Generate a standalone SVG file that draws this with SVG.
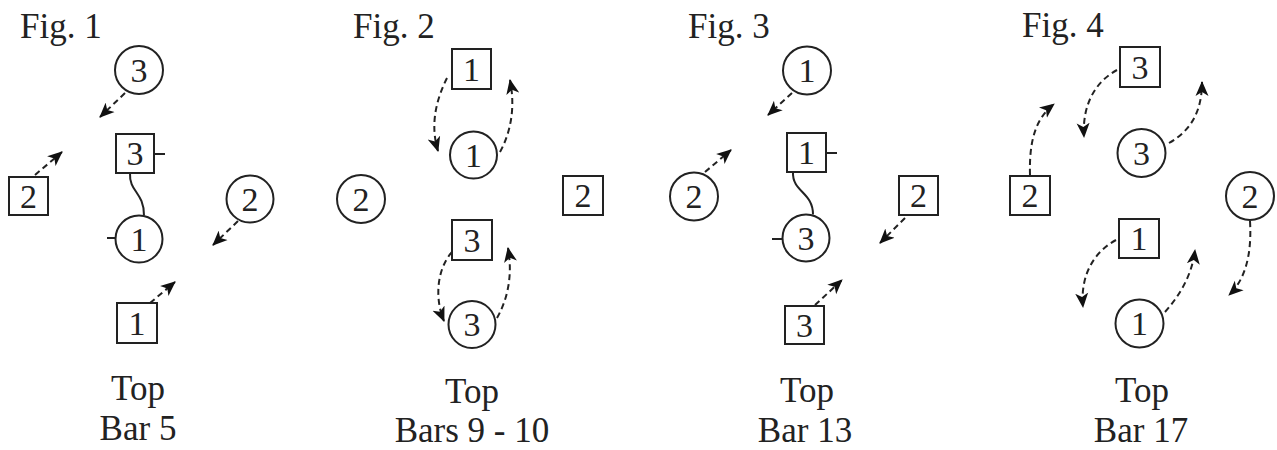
<svg xmlns="http://www.w3.org/2000/svg" width="1277" height="450" viewBox="0 0 1277 450">
<style>
.n circle,.n rect{fill:none;stroke:#222;stroke-width:2}
.n line{stroke:#222;stroke-width:2}
.n text{font-family:"Liberation Serif",serif;font-size:34px;fill:#222;text-anchor:middle}
.lbl{font-family:"Liberation Serif",serif;font-size:35px;fill:#222}
.cap{text-anchor:middle}
.d{fill:none;stroke:#222;stroke-width:2;stroke-dasharray:6 4;marker-end:url(#ah)}
.w{fill:none;stroke:#222;stroke-width:2}
</style>
<defs>
<marker id="ah" markerWidth="16" markerHeight="14" refX="14" refY="7" orient="auto" markerUnits="userSpaceOnUse">
<path d="M0,0.5 L15,7 L0,13.5 L4,7 z" fill="#111"/>
</marker>
</defs>
<rect width="1277" height="450" fill="#fff"/>

<!-- Figure labels -->
<g id="labels">
<text class="lbl" x="20" y="38">Fig. 1</text>
<text class="lbl" x="353" y="38">Fig. 2</text>
<text class="lbl" x="688" y="38">Fig. 3</text>
<text class="lbl" x="1022" y="37">Fig. 4</text>
<text class="lbl cap" x="138" y="400">Top</text>
<text class="lbl cap" x="138" y="440">Bar 5</text>
<text class="lbl cap" x="472" y="403">Top</text>
<text class="lbl cap" x="472" y="442">Bars 9 - 10</text>
<text class="lbl cap" x="807" y="402">Top</text>
<text class="lbl cap" x="805" y="442">Bar 13</text>
<text class="lbl cap" x="1142" y="402">Top</text>
<text class="lbl cap" x="1141" y="442">Bar 17</text>
</g>

<!-- Fig 1 -->
<g id="f1-c3" class="n"><circle cx="139" cy="70" r="24"/><text x="139" y="82">3</text></g>
<g id="f1-s3" class="n"><rect x="116" y="134" width="38" height="39"/><line x1="154" y1="154" x2="165" y2="154"/><text x="135" y="165">3</text></g>
<g id="f1-s2" class="n"><rect x="9" y="177" width="39" height="38"/><text x="28.5" y="208">2</text></g>
<g id="f1-c2" class="n"><circle cx="250" cy="199" r="23.5"/><text x="250" y="211">2</text></g>
<g id="f1-c1" class="n"><circle cx="139" cy="239" r="23.5"/><line x1="107" y1="238" x2="115" y2="238"/><text x="139" y="251">1</text></g>
<g id="f1-s1" class="n"><rect x="117" y="303" width="40" height="40"/><text x="137" y="335">1</text></g>

<!-- Fig 2 -->
<g id="f2-s1" class="n"><rect x="452" y="49" width="39" height="40"/><text x="471.5" y="81">1</text></g>
<g id="f2-c1" class="n"><circle cx="473.5" cy="155" r="23.5"/><text x="473.5" y="167">1</text></g>
<g id="f2-c2" class="n"><circle cx="361" cy="199" r="24"/><text x="361" y="211">2</text></g>
<g id="f2-s2" class="n"><rect x="563" y="176" width="40" height="39"/><text x="583" y="207">2</text></g>
<g id="f2-s3" class="n"><rect x="452" y="220" width="40" height="40"/><text x="472" y="252">3</text></g>
<g id="f2-c3" class="n"><circle cx="472" cy="324.5" r="23.5"/><text x="472" y="336">3</text></g>

<!-- Fig 3 -->
<g id="f3-c1" class="n"><circle cx="807" cy="70.5" r="24"/><text x="807" y="82">1</text></g>
<g id="f3-s1" class="n"><rect x="787" y="133" width="39" height="39"/><line x1="826" y1="153" x2="837" y2="153"/><text x="806.5" y="164">1</text></g>
<g id="f3-c2" class="n"><circle cx="694" cy="196.5" r="24"/><text x="694" y="208">2</text></g>
<g id="f3-s2" class="n"><rect x="899" y="176" width="39" height="39"/><text x="918.5" y="207">2</text></g>
<g id="f3-c3" class="n"><circle cx="806" cy="238" r="23.5"/><line x1="772" y1="239" x2="782" y2="239"/><text x="806" y="250">3</text></g>
<g id="f3-s3" class="n"><rect x="785" y="306" width="39" height="38"/><text x="804.5" y="337">3</text></g>

<!-- Fig 4 -->
<g id="f4-s3" class="n"><rect x="1120" y="47" width="40" height="40"/><text x="1140" y="79">3</text></g>
<g id="f4-c3" class="n"><circle cx="1141.5" cy="153" r="24"/><text x="1141.5" y="165">3</text></g>
<g id="f4-s2" class="n"><rect x="1010" y="176" width="40" height="39"/><text x="1030" y="207">2</text></g>
<g id="f4-c2" class="n"><circle cx="1250" cy="196" r="24"/><text x="1250" y="208">2</text></g>
<g id="f4-s1" class="n"><rect x="1119" y="219" width="40" height="39"/><text x="1139" y="250">1</text></g>
<g id="f4-c1" class="n"><circle cx="1139.5" cy="323.5" r="24"/><text x="1139.5" y="335">1</text></g>

<!-- Connectors -->
<g id="connectors">
<path class="w" d="M130,173 C129,192 144,192 144,215.5"/>
<path class="w" d="M793,172 C792,192 813,192 813,214.5"/>

<path class="d" d="M125,93 L100,117"/>
<path class="d" d="M35,175 L62,152"/>
<path class="d" d="M238,221 L213,245"/>
<path class="d" d="M150,303 L175,282"/>

<path class="d" d="M447,78 C436,100 430,125 438,151"/>
<path class="d" d="M500,152 C512,130 515,105 510,80"/>
<path class="d" d="M452,252 C436,270 435,300 444,321"/>
<path class="d" d="M497,318 C510,295 512,270 508,248"/>

<path class="d" d="M792,93 L768,115"/>
<path class="d" d="M705,172 L731,150"/>
<path class="d" d="M905,218 L880,243"/>
<path class="d" d="M815,305 L842,280"/>

<path class="d" d="M1117,70 C1095,82 1082,105 1084,137"/>
<path class="d" d="M1169,143 C1192,130 1202,110 1202,82"/>
<path class="d" d="M1030,175 C1029,140 1036,118 1054,104"/>
<path class="d" d="M1250,221 C1252,255 1245,280 1229,295"/>
<path class="d" d="M1116,240 C1094,252 1080,275 1083,307"/>
<path class="d" d="M1165,312 C1180,295 1192,275 1195,250"/>
</g>
</svg>
